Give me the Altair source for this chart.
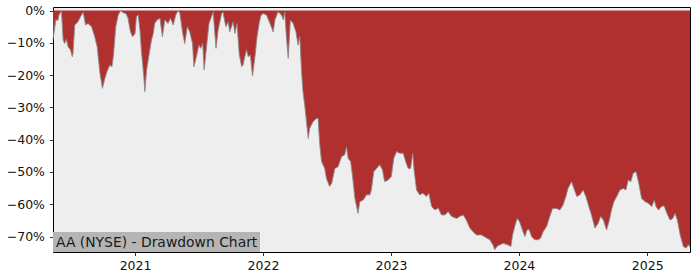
import altair as alt
import pandas as pd

# Time positions (decimal years) and drawdown (%)
years = [
    2020.362, 2020.383, 2020.401, 2020.409, 2020.427, 2020.440, 2020.453, 2020.466, 2020.479, 2020.498,
    2020.513, 2020.518, 2020.531, 2020.557, 2020.584, 2020.596, 2020.617, 2020.635, 2020.662, 2020.688,
    2020.705, 2020.727, 2020.748, 2020.766, 2020.784, 2020.805, 2020.820, 2020.831, 2020.852, 2020.870,
    2020.888, 2020.909, 2020.930, 2020.948, 2020.966, 2020.982, 2021.000, 2021.013, 2021.026, 2021.039,
    2021.052, 2021.070, 2021.078, 2021.091, 2021.109, 2021.130, 2021.143, 2021.156, 2021.174, 2021.195,
    2021.216, 2021.234, 2021.260, 2021.279, 2021.299, 2021.320, 2021.338, 2021.352, 2021.373, 2021.391,
    2021.409, 2021.430, 2021.451, 2021.463, 2021.482, 2021.500, 2021.513, 2021.529, 2021.541, 2021.560,
    2021.580, 2021.599, 2021.612, 2021.633, 2021.651, 2021.677, 2021.690, 2021.711, 2021.729, 2021.742,
    2021.768, 2021.781, 2021.799, 2021.815, 2021.834, 2021.846, 2021.859, 2021.872, 2021.885, 2021.904,
    2021.920, 2021.938, 2021.955, 2021.971, 2021.985, 2022.002, 2022.029, 2022.055, 2022.080, 2022.094,
    2022.120, 2022.146, 2022.159, 2022.172, 2022.185, 2022.198, 2022.216, 2022.237, 2022.258, 2022.276,
    2022.289, 2022.302, 2022.315, 2022.328, 2022.341, 2022.354, 2022.367, 2022.393, 2022.420, 2022.432,
    2022.445, 2022.458, 2022.484, 2022.498, 2022.523, 2022.537, 2022.563, 2022.588, 2022.615, 2022.641,
    2022.654, 2022.666, 2022.685, 2022.701, 2022.719, 2022.745, 2022.758, 2022.784, 2022.810, 2022.836,
    2022.849, 2022.867, 2022.888, 2022.914, 2022.935, 2022.953, 2022.979, 2023.005, 2023.023, 2023.045,
    2023.070, 2023.096, 2023.117, 2023.135, 2023.154, 2023.170, 2023.182, 2023.201, 2023.227, 2023.252,
    2023.279, 2023.297, 2023.318, 2023.344, 2023.370, 2023.396, 2023.422, 2023.448, 2023.474, 2023.513,
    2023.539, 2023.565, 2023.591, 2023.617, 2023.643, 2023.670, 2023.709, 2023.748, 2023.773, 2023.799,
    2023.813, 2023.830, 2023.852, 2023.877, 2023.916, 2023.938, 2023.951, 2023.969, 2023.987, 2024.008,
    2024.029, 2024.047, 2024.065, 2024.080, 2024.099, 2024.125, 2024.151, 2024.170, 2024.190, 2024.216,
    2024.242, 2024.263, 2024.295, 2024.320, 2024.346, 2024.367, 2024.385, 2024.412, 2024.430, 2024.451,
    2024.477, 2024.502, 2024.523, 2024.541, 2024.568, 2024.594, 2024.620, 2024.638, 2024.659, 2024.685,
    2024.705, 2024.724, 2024.742, 2024.763, 2024.789, 2024.815, 2024.836, 2024.854, 2024.873, 2024.893,
    2024.914, 2024.932, 2024.959, 2024.984, 2025.010, 2025.037, 2025.055, 2025.070, 2025.088, 2025.115,
    2025.133, 2025.154, 2025.180, 2025.201, 2025.219, 2025.237, 2025.258, 2025.284, 2025.305, 2025.323,
    2025.336,
]

drawdown_pct = [
    -9.0, -2.9, -3.0, -1.4, 0.0, -9.1, -10.2, -8.9, -11.2, -12.2,
    -14.3, -13.3, -4.5, -3.5, -1.4, -0.5, -4.5, -4.0, -5.0, -8.1,
    -11.2, -19.5, -24.1, -21.0, -18.9, -16.9, -17.4, -14.3, -5.0, -1.4,
    0.0, -0.7, -0.9, -2.4, -6.6, -8.1, -7.1, -1.9, -1.4, -6.0,
    -12.2, -20.5, -25.1, -18.4, -14.3, -9.1, -7.1, -4.0, -2.9, -2.4,
    -8.1, -2.9, -4.0, -2.4, -4.5, -1.4, 0.0, -0.9, -7.1, -10.2,
    -5.0, -6.6, -10.2, -17.4, -14.3, -10.7, -11.7, -10.2, -18.4, -11.2,
    -4.0, -1.9, -0.5, -11.7, -6.0, -0.9, -0.5, -5.0, -3.5, -6.6,
    -3.5, -7.1, -4.0, -13.3, -17.4, -16.9, -14.3, -12.2, -14.3, -13.8,
    -20.3, -14.3, -8.1, -4.0, -1.6, -0.9, -1.4, -4.0, -6.6, -2.9,
    -0.4, -1.4, -2.9, -0.4, -8.6, -14.8, -2.9, -4.0, -6.6, -10.7,
    -8.1, -18.9, -25.1, -29.3, -34.4, -39.6, -36.5, -34.4, -33.4, -33.4,
    -41.6, -46.8, -48.9, -52.0, -54.5, -53.5, -48.9, -48.4, -45.3, -44.7,
    -42.2, -45.8, -46.8, -50.9, -58.1, -62.8, -59.2, -58.7, -57.1, -57.1,
    -55.6, -49.9, -48.9, -47.8, -49.4, -53.0, -52.5, -51.4, -45.8, -43.7,
    -44.2, -44.2, -46.8, -48.9, -48.9, -44.2, -49.4, -55.6, -57.1, -56.6,
    -57.6, -56.6, -60.7, -61.8, -61.2, -63.3, -63.3, -62.3, -63.8, -64.4,
    -63.8, -63.3, -64.9, -67.4, -68.5, -69.5, -69.5, -70.5, -71.0, -72.6,
    -74.1, -73.1, -72.6, -72.1, -72.6, -73.1, -69.5, -66.9, -64.4, -65.4,
    -68.0, -70.0, -68.0, -67.8, -70.0, -71.0, -71.0, -70.5, -68.5, -66.9,
    -63.8, -61.3, -61.3, -61.8, -60.2, -57.6, -55.1, -53.0, -55.1, -57.6,
    -57.1, -55.6, -57.6, -60.2, -63.3, -67.4, -65.9, -63.8, -64.9, -68.0,
    -64.9, -61.8, -59.2, -57.6, -55.6, -55.1, -55.6, -52.5, -53.0, -50.4,
    -49.9, -53.0, -58.2, -59.2, -59.7, -60.7, -58.7, -60.7, -61.8, -60.7,
    -60.5, -62.8, -64.9, -64.4, -62.8, -64.9, -69.5, -73.1, -73.6, -72.6,
    -73.1,
]

y_ticks = [0, -0.1, -0.2, -0.3, -0.4, -0.5, -0.6, -0.7]
x_ticks = ["2021-01-01", "2022-01-01", "2023-01-01", "2024-01-01", "2025-01-01"]
title_text = "AA (NYSE) - Drawdown Chart"


def to_date(y):
    yr = int(y)
    start = pd.Timestamp(year=yr, month=1, day=1)
    days = (pd.Timestamp(year=yr + 1, month=1, day=1) - start).days
    return (start + pd.Timedelta(days=(y - yr) * days)).strftime("%Y-%m-%d")


df = pd.DataFrame({
    "date": [to_date(y) for y in years],
    "dd": [v / 100 for v in drawdown_pct],
})
df["zero"] = 0.0

FONT = "DejaVu Sans"

x_scale = alt.Scale(type="utc", nice=False, padding=0)
y_scale = alt.Scale(domain=[-0.748, 0.011], nice=False, zero=False)

area = alt.Chart(df).mark_area(
    color="#b03030", opacity=1, interpolate="linear",
    line=alt.OverlayMarkDef(color="#8a8a8a", strokeWidth=0.9),
).encode(
    x=alt.X(
        "date:T", scale=x_scale,
        axis=alt.Axis(values=x_ticks, labelExpr="utcFormat(datum.value, '%Y')", title=None),
    ),
    y=alt.Y(
        "dd:Q", scale=y_scale,
        axis=alt.Axis(values=y_ticks, format=".0%", title=None),
    ),
    y2="zero:Q",
)

box = alt.Chart(pd.DataFrame({"t": [title_text]})).mark_rect(color="#b5b5b5").encode(
    x=alt.value(0), x2=alt.value(207), y=alt.value(225), y2=alt.value(245),
)
label = alt.Chart(pd.DataFrame({"t": [title_text]})).mark_text(
    align="left", baseline="middle", font=FONT, fontSize=13.9, color="#1a1a1a",
).encode(
    text="t:N", x=alt.value(3), y=alt.value(235.5),
)

chart = alt.layer(area, box, label).properties(
    width=637, height=245,
    padding={"left": 53, "top": 7, "right": 10, "bottom": 28},
    autosize=alt.AutoSizeParams(type="none"),
    background="white",
).configure_view(
    fill="#eeeeee", stroke="black", strokeWidth=1,
).configure_axis(
    grid=False, domain=False, tickColor="black", tickSize=3.5, tickWidth=0.8,
    labelFont=FONT, labelFontSize=12.5, labelColor="#111",
    labelOverlap=False, labelFlush=False, labelBound=False,
).configure_axisX(
    labelPadding=4,
).configure_axisY(
    labelPadding=5,
)

chart.save("out.html", embed_options={"renderer": "svg", "actions": False})
